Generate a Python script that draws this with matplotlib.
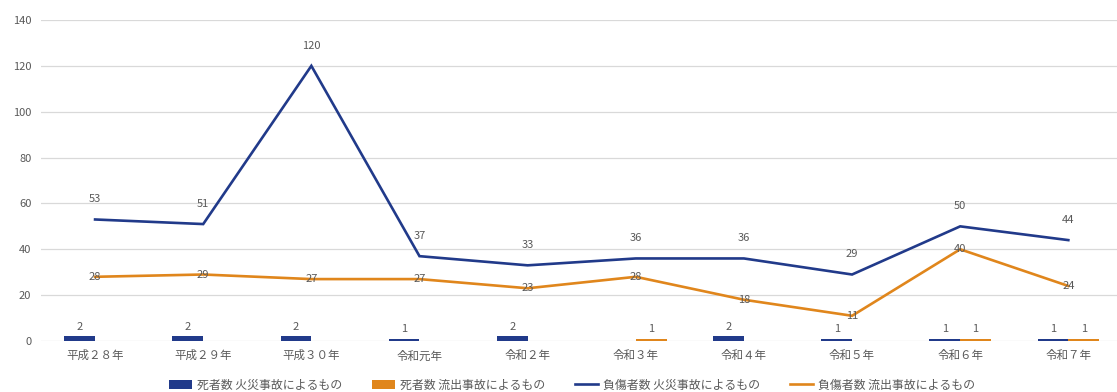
import matplotlib
matplotlib.use("Agg")
import matplotlib.pyplot as plt
import numpy as np

plt.rcParams['font.family'] = ['Noto Sans CJK JP', 'DejaVu Sans']

categories = ["平成２８年", "平成２９年", "平成３０年", "令和元年", "令和２年",
              "令和３年", "令和４年", "令和５年", "令和６年", "令和７年"]
deaths_fire = [2, 2, 2, 1, 2, 0, 2, 1, 1, 1]
deaths_leak = [0, 0, 0, 0, 0, 1, 0, 0, 1, 1]
injured_fire = [53, 51, 120, 37, 33, 36, 36, 29, 50, 44]
injured_leak = [28, 29, 27, 27, 23, 28, 18, 11, 40, 24]

series_names = ["死者数 火災事故によるもの", "死者数 流出事故によるもの",
                "負傷者数 火災事故によるもの", "負傷者数 流出事故によるもの"]
navy = "#213A8A"
orange = "#E0861C"
text_c = "#595959"

fig = plt.figure(figsize=(11.17, 3.92), dpi=100)
ax = fig.add_axes([41/1117, 51/392, (1117-41)/1117, 321/392])

x = np.arange(len(categories))
bw = 0.285
b1 = ax.bar(x - bw/2, deaths_fire, bw, color=navy, label=series_names[0], zorder=3)
b2 = ax.bar(x + bw/2, deaths_leak, bw, color=orange, label=series_names[1], zorder=3)
l1, = ax.plot(x, injured_fire, color=navy, lw=1.9, label=series_names[2], zorder=4,
              solid_joinstyle='miter')
l2, = ax.plot(x, injured_leak, color=orange, lw=1.9, label=series_names[3], zorder=4,
              solid_joinstyle='miter')

fs = 8
for xi, v in zip(x, deaths_fire):
    if v:
        ax.annotate(str(v), (xi - bw/2, v), xytext=(0, 7), textcoords='offset points',
                    ha='center', va='center', fontsize=fs, color=text_c, zorder=5)
for xi, v in zip(x, deaths_leak):
    if v:
        ax.annotate(str(v), (xi + bw/2, v), xytext=(0, 7), textcoords='offset points',
                    ha='center', va='center', fontsize=fs, color=text_c, zorder=5)
for xi, v in zip(x, injured_fire):
    ax.annotate(str(v), (xi, v), xytext=(0, 14.5), textcoords='offset points',
                ha='center', va='center', fontsize=fs, color=text_c, zorder=5)
for xi, v in zip(x, injured_leak):
    ax.annotate(str(v), (xi, v), xytext=(0, 0), textcoords='offset points',
                ha='center', va='center', fontsize=fs, color=text_c, zorder=5)

ax.set_ylim(0, 140)
ax.set_yticks(range(0, 141, 20))
ax.set_xlim(-0.5, 9.45)
ax.set_xticks(x)
ax.set_xticklabels(categories, fontsize=8.3)
ax.tick_params(axis='both', length=0, colors=text_c)
ax.tick_params(axis='y', pad=7, labelsize=fs)
ax.tick_params(axis='x', pad=6)
ax.grid(axis='y', color="#D9D9D9", lw=0.9, zorder=0)
for s in ax.spines.values():
    s.set_visible(False)

fig.legend(handles=[b1, b2, l1, l2], labels=series_names, loc='center',
           bbox_to_anchor=(572/1117, 7/392), ncol=4, frameon=False, fontsize=8.6,
           labelcolor=text_c, handlelength=1.95, handletextpad=0.4, columnspacing=2.5)

fig.savefig("out.png", dpi=100)
